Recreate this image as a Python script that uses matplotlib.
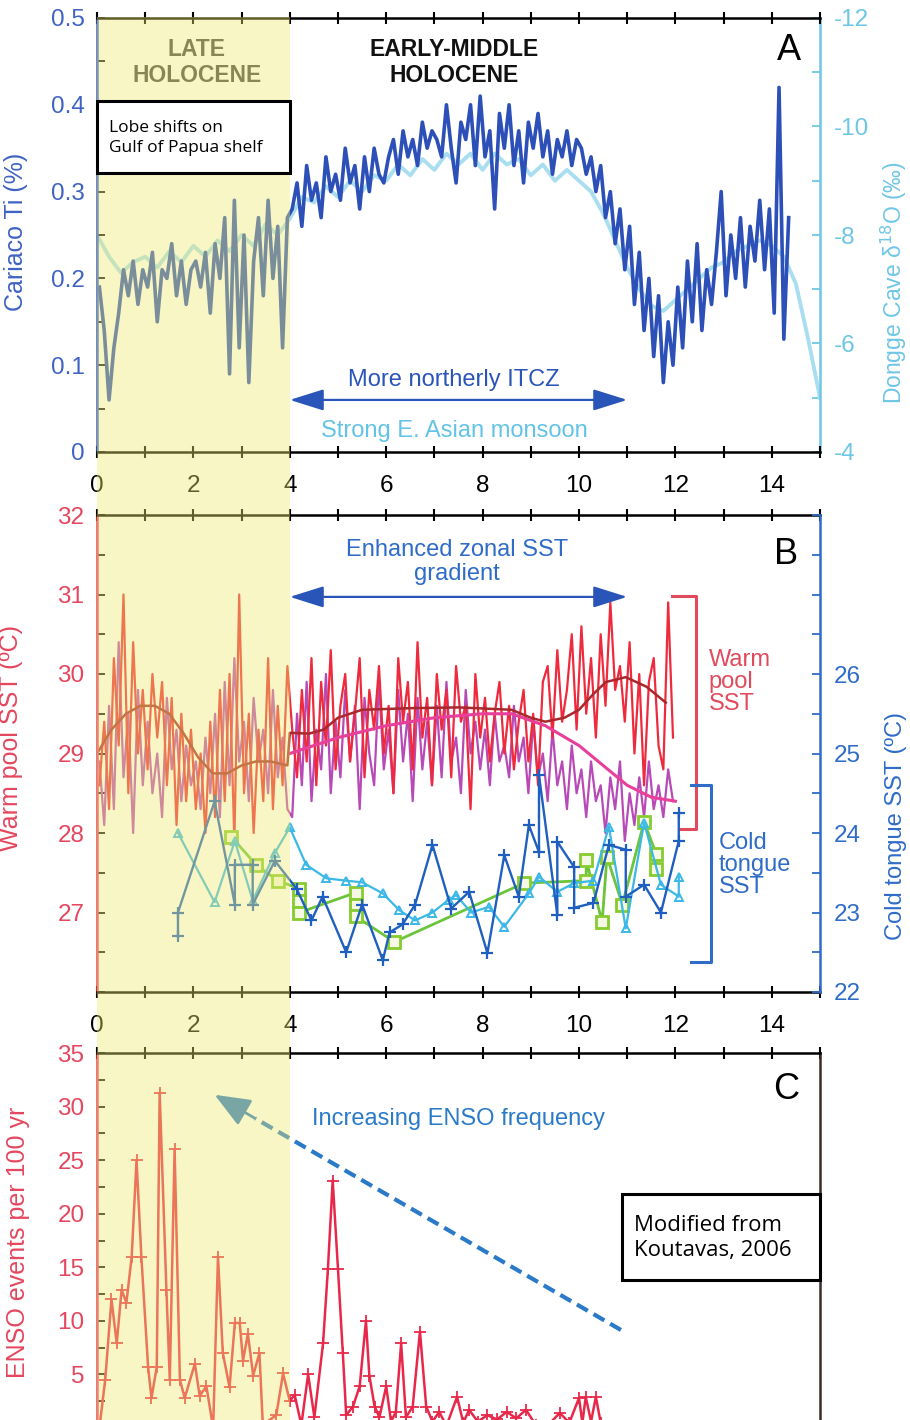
import matplotlib.pyplot as plt
from matplotlib.patches import Rectangle
from matplotlib.ticker import MultipleLocator, FixedLocator, FuncFormatter

plt.rcParams["font.family"] = ["Liberation Sans", "DejaVu Sans"]
plt.rcParams["axes.unicode_minus"] = False

W, H = 910, 1420

# ---------------- panel A : Cariaco Ti (%) and Dongge Cave d18O ----------------
ti_age = [
    0.05, 0.15, 0.25, 0.35, 0.45, 0.55, 0.65, 0.75, 0.85, 0.95,
    1.05, 1.15, 1.25, 1.35, 1.45, 1.55, 1.65, 1.75, 1.85, 1.95,
    2.05, 2.15, 2.25, 2.35, 2.45, 2.55, 2.65, 2.75, 2.85, 2.95,
    3.05, 3.15, 3.25, 3.35, 3.45, 3.55, 3.65, 3.75, 3.85, 3.95,
    4.05, 4.15, 4.25, 4.35, 4.45, 4.55, 4.65, 4.75, 4.85, 4.95,
    5.05, 5.15, 5.25, 5.35, 5.45, 5.55, 5.65, 5.75, 5.85, 5.95,
    6.05, 6.15, 6.25, 6.35, 6.45, 6.55, 6.65, 6.75, 6.85, 6.95,
    7.05, 7.15, 7.25, 7.35, 7.45, 7.55, 7.65, 7.75, 7.85, 7.95,
    8.05, 8.15, 8.25, 8.35, 8.45, 8.55, 8.65, 8.75, 8.85, 8.95,
    9.05, 9.15, 9.25, 9.35, 9.45, 9.55, 9.65, 9.75, 9.85, 9.95,
    10.05, 10.15, 10.25, 10.35, 10.45, 10.55, 10.65, 10.75, 10.85, 10.95,
    11.05, 11.15, 11.25, 11.35, 11.45, 11.55, 11.65, 11.75, 11.85, 11.95,
    12.05, 12.15, 12.25, 12.35, 12.45, 12.55, 12.65, 12.75, 12.85, 12.95,
    13.05, 13.15, 13.25, 13.35, 13.45, 13.55, 13.65, 13.75, 13.85, 13.95,
    14.05, 14.15, 14.25, 14.35,
]
ti_pct = [
    0.19, 0.14, 0.06, 0.12, 0.16, 0.21, 0.18, 0.22, 0.17, 0.21,
    0.19, 0.23, 0.15, 0.21, 0.20, 0.24, 0.18, 0.22, 0.17, 0.21,
    0.22, 0.19, 0.23, 0.16, 0.24, 0.20, 0.27, 0.09, 0.29, 0.12,
    0.25, 0.08, 0.22, 0.27, 0.18, 0.29, 0.20, 0.26, 0.12, 0.27,
    0.28, 0.31, 0.26, 0.33, 0.29, 0.31, 0.27, 0.34, 0.30, 0.32,
    0.29, 0.35, 0.31, 0.33, 0.28, 0.34, 0.30, 0.35, 0.32, 0.31,
    0.34, 0.36, 0.32, 0.37, 0.34, 0.36, 0.33, 0.38, 0.35, 0.37,
    0.36, 0.34, 0.40, 0.35, 0.31, 0.38, 0.36, 0.40, 0.33, 0.41,
    0.34, 0.37, 0.28, 0.39, 0.35, 0.40, 0.33, 0.37, 0.31, 0.38,
    0.35, 0.39, 0.34, 0.37, 0.32, 0.36, 0.34, 0.37, 0.33, 0.36,
    0.35, 0.32, 0.34, 0.30, 0.33, 0.27, 0.30, 0.24, 0.28, 0.21,
    0.26, 0.17, 0.23, 0.14, 0.20, 0.11, 0.18, 0.08, 0.15, 0.10,
    0.19, 0.12, 0.22, 0.15, 0.24, 0.14, 0.21, 0.17, 0.23, 0.30,
    0.18, 0.25, 0.20, 0.27, 0.19, 0.26, 0.22, 0.29, 0.21, 0.28,
    0.16, 0.42, 0.13, 0.27,
]

dongge_age = [
    0.0, 0.25, 0.5, 0.75, 1.0, 1.25, 1.5, 1.75, 2.0, 2.25,
    2.5, 2.75, 3.0, 3.25, 3.5, 3.75, 4.0, 4.25, 4.5, 4.75,
    5.0, 5.25, 5.5, 5.75, 6.0, 6.25, 6.5, 6.75, 7.0, 7.25,
    7.5, 7.75, 8.0, 8.25, 8.5, 8.75, 9.0, 9.25, 9.5, 9.75,
    10.0, 10.25, 10.5, 10.75, 11.0, 11.25, 11.5, 11.75, 12.0, 12.25,
    12.5, 12.75, 13.0, 13.25, 13.5, 13.75, 14.0, 14.25, 14.5, 14.75, 15.0,
]
dongge_d18o = [
    -8.0, -7.6, -7.3, -7.5, -7.6, -7.4, -7.7, -7.5, -7.8, -7.6,
    -7.9, -7.7, -8.0, -7.8, -8.2, -8.0, -8.3, -8.7, -8.6, -8.9,
    -8.7, -9.0, -8.8, -9.1, -9.0, -9.3, -9.1, -9.4, -9.2, -9.5,
    -9.3, -9.5, -9.2, -9.5, -9.3, -9.4, -9.1, -9.3, -9.0, -9.2,
    -9.0, -8.8, -8.4, -7.9, -7.4, -7.0, -6.7, -6.6, -6.8, -7.0,
    -7.2, -7.4, -7.5, -7.7, -7.8, -7.9, -7.8, -7.6, -7.1, -6.1, -5.0,
]

# ---------------- panel B : warm pool and cold tongue SST ----------------
wp_age = ti_age[:120]
wp_red = [
    28.6, 29.4, 28.3, 30.2, 29.1, 31.0, 28.5, 30.4, 29.0, 29.8,
    28.8, 30.0, 29.2, 29.9, 28.6, 29.7, 28.1, 29.5, 28.4, 29.3,
    28.3, 29.0, 28.0, 29.4, 28.2, 29.8, 28.4, 30.0, 27.9, 31.0,
    28.5, 29.5, 28.0, 29.3, 28.4, 30.2, 28.3, 29.6, 28.6, 30.1,
    29.3, 28.7, 29.8, 28.9, 30.2, 28.6, 29.9, 29.1, 30.3, 28.8,
    29.6, 30.0, 28.9, 29.5, 30.2, 28.7, 29.8, 29.3, 30.1, 29.0,
    29.6, 28.5, 30.2, 29.4, 29.9, 28.8, 30.4, 29.2, 29.7, 28.6,
    30.0, 29.3, 29.8, 28.7, 30.1, 29.4, 29.6, 28.3, 30.0, 29.2,
    29.7, 28.9, 29.5, 29.9, 29.0, 29.6, 28.8, 29.4, 29.8, 28.9,
    29.5, 28.6, 29.9, 30.1, 29.2, 30.3, 29.4, 29.8, 30.5, 29.3,
    30.6, 29.5, 30.2, 29.2, 30.5, 29.6, 30.9, 29.8, 30.1, 29.4,
    30.4, 29.0, 30.0, 28.6, 29.9, 30.2, 29.1, 28.8, 30.9, 29.2,
]
wp_magenta = [
    28.9, 28.1, 29.6, 28.3, 30.4, 28.7, 29.5, 28.0, 29.8, 28.6,
    29.4, 28.5, 29.0, 28.2, 29.7, 28.8, 29.3, 28.4, 29.1, 28.6,
    28.9, 28.3, 29.2, 28.5, 29.5, 28.2, 29.9, 28.6, 30.2, 28.9,
    29.4, 28.4, 29.7, 28.9, 29.3, 28.5, 29.8, 28.7, 29.2, 28.3,
    28.2, 29.5, 28.6, 29.9, 28.4, 29.3, 28.8, 30.0, 28.5, 29.4,
    28.7, 29.8, 28.9, 29.6, 28.3, 29.7, 29.0, 28.6, 29.9, 28.8,
    29.3, 28.5, 29.8, 28.9, 29.5, 28.4, 29.7, 28.8, 29.4, 28.6,
    29.6, 28.7, 29.9, 28.9, 29.2, 28.5, 29.8, 29.0, 29.4, 28.8,
    29.3, 28.6, 29.5, 28.9, 29.1, 28.7, 29.6, 28.9, 29.2, 28.5,
    29.4, 28.7, 29.0, 28.4, 29.3, 28.6, 28.9, 28.3, 29.1, 28.5,
    28.8, 28.2, 28.9, 28.4, 28.6, 28.0, 28.7, 28.3, 28.9, 27.9,
    28.5, 28.1, 28.7, 28.2, 28.9, 28.3, 28.6, 28.2, 28.8, 28.4,
]
red_smooth_age = [0.0, 0.3, 0.6, 0.9, 1.2, 1.5, 1.8, 2.1, 2.4, 2.7, 3.0, 3.3, 3.6, 3.95,
                  4.0, 4.4, 4.7, 5.0, 5.5, 6.5, 7.5, 8.6, 9.0, 9.3, 9.7, 10.0, 10.3,
                  10.56, 10.97, 11.4, 11.8]
red_smooth = [29.0, 29.3, 29.5, 29.6, 29.6, 29.5, 29.25, 28.95, 28.75, 28.75, 28.85, 28.9, 28.9,
              28.85, 29.26, 29.25, 29.3, 29.45, 29.55, 29.57, 29.58, 29.55, 29.45, 29.4, 29.45,
              29.55, 29.75, 29.9, 29.96, 29.84, 29.64]
mag_smooth_age = [4.0, 5.0, 6.0, 7.0, 8.0, 8.6, 9.3, 10.0, 10.5, 11.0, 11.5, 12.0]
mag_smooth = [29.0, 29.2, 29.35, 29.45, 29.5, 29.5, 29.35, 29.1, 28.85, 28.6, 28.45, 28.4]

ct_blue_age = [1.68, 1.68, 2.44, 2.86, 2.86, 3.23, 3.23, 3.69, 4.14, 4.45, 4.68, 5.17, 5.5,
               5.93, 6.07, 6.34, 6.6, 6.96, 7.35, 7.72, 8.1, 8.45, 8.75, 8.96, 9.17, 9.17,
               9.55, 9.55, 9.9, 9.9, 10.3, 10.62, 10.97, 10.97, 11.35, 11.7, 12.07, 12.07]
ct_blue = [22.7, 23.0, 24.4, 23.1, 23.6, 23.6, 23.1, 23.65, 23.3, 22.9, 23.2, 22.5, 23.1,
           22.4, 22.75, 22.85, 23.1, 23.85, 23.05, 23.26, 22.49, 23.72, 23.2, 24.1, 23.76, 24.73,
           22.97, 23.89, 23.57, 23.06, 23.12, 23.85, 23.79, 23.2, 23.35, 23.0, 23.9, 24.25]
ct_cyan_age = [1.68, 2.44, 2.86, 3.23, 3.69, 4.0, 4.34, 4.76, 5.17, 5.5, 5.93, 6.27, 6.6,
               6.96, 7.3, 7.45, 7.76, 8.13, 8.45, 8.96, 9.17, 9.55, 9.9, 10.3, 10.62, 10.97,
               11.35, 11.7, 12.07, 12.07]
ct_cyan = [24.0, 23.13, 23.9, 23.15, 23.75, 24.07, 23.6, 23.43, 23.4, 23.38, 23.24, 23.03, 22.9,
           23.0, 23.16, 23.22, 23.0, 23.07, 22.82, 23.24, 23.45, 23.26, 23.37, 23.4, 24.08, 22.8,
           24.13, 23.35, 23.2, 23.45]
ct_green_age = [2.79, 3.3, 3.75, 4.2, 4.2, 4.2, 5.37, 5.37, 5.37, 6.17, 8.86, 10.15, 10.15,
                10.48, 10.58, 10.9, 11.35, 11.6, 11.6]
ct_green = [23.95, 23.6, 23.4, 23.3, 23.15, 23.0, 23.25, 23.1, 22.95, 22.63, 23.37, 23.4, 23.66,
            22.88, 23.7, 23.1, 24.14, 23.74, 23.55]

# ---------------- panel C : ENSO events per 100 yr ----------------
enso_age = [0.05, 0.17, 0.30, 0.41, 0.51, 0.61, 0.72, 0.82, 0.92, 1.06, 1.13, 1.24, 1.30,
            1.44, 1.51, 1.61, 1.72, 1.82, 2.03, 2.13, 2.27, 2.41, 2.51, 2.61, 2.75, 2.86,
            2.96, 3.03, 3.13, 3.24, 3.37, 3.44, 3.72, 3.86, 4.0, 4.10, 4.24, 4.38, 4.51,
            4.69, 4.79, 4.89, 5.0, 5.1, 5.17, 5.31, 5.45, 5.58, 5.65, 5.76, 5.86, 6.0,
            6.1, 6.2, 6.31, 6.41, 6.55, 6.70, 6.83, 6.96, 7.1, 7.25, 7.47, 7.6, 7.72,
            7.9, 8.1, 8.3, 8.5, 8.7, 8.9, 9.1, 9.3, 9.6, 9.8, 10.0, 10.07, 10.14, 10.25,
            10.35, 10.45, 10.55]
enso_n = [0.0, 4.5, 12.0, 7.9, 12.9, 11.7, 16.0, 25.0, 16.0, 5.7, 2.8, 5.7, 31.3,
          12.9, 4.5, 26.0, 4.5, 2.8, 6.0, 3.0, 3.9, 0.0, 16.0, 7.0, 3.8, 9.8,
          9.8, 6.3, 8.8, 4.9, 7.0, 0.3, 1.2, 5.1, 2.5, 3.1, 0.3, 5.0, 1.0,
          7.9, 14.8, 23.1, 14.8, 7.0, 1.2, 2.0, 3.9, 10.0, 4.9, 2.0, 1.0, 3.9,
          0.6, 1.5, 7.9, 1.0, 2.0, 9.0, 2.0, 0.6, 1.5, 0.2, 2.9, 0.5, 1.7,
          0.6, 1.2, 0.8, 1.5, 0.9, 1.7, 0.3, 0.0, 1.4, 0.5, 2.8, 0.5, 2.9, 0.6,
          2.9, 0.5, 0.0]

TICK_FS = 17.5
LAB_FS = 18
ANN_FS = 17


def frame(ax, left_color, right_visible=True):
    for side in ["top", "bottom", "left", "right"]:
        ax.spines[side].set_linewidth(1.8)
    ax.spines["left"].set_color(left_color)
    ax.spines["right"].set_visible(right_visible)
    ax.set_xlim(0, 15)
    ax.xaxis.set_major_locator(MultipleLocator(2))
    ax.xaxis.set_minor_locator(MultipleLocator(1))
    ax.tick_params(axis="x", which="both", top=True, bottom=True, direction="inout",
                   length=9, width=1.5, labelsize=TICK_FS, pad=12)
    ax.tick_params(axis="y", which="both", direction="in", length=6, width=1.3,
                   labelsize=TICK_FS, pad=9, labelcolor=left_color)
    ax.patch.set_visible(False)


def right_frame(ax, color):
    for side in ["top", "bottom", "left"]:
        ax.spines[side].set_visible(False)
    ax.spines["right"].set_color(color)
    ax.spines["right"].set_linewidth(1.8)
    ax.tick_params(axis="y", which="both", direction="in", length=6, width=1.3,
                   color=color, labelsize=TICK_FS, pad=10, labelcolor=color)


fmt = FuncFormatter(lambda v, p: f"{v:g}")

fig = plt.figure(figsize=(W / 100, H / 100), dpi=100)

# ---- A ----
axA = fig.add_axes([97 / W, 1 - 452 / H, 723 / W, 434 / H])
axA2 = axA.twinx()
axA.set_zorder(2)
frame(axA, "#3f63c3", right_visible=False)
right_frame(axA2, "#6ec6e6")
axA2.plot(dongge_age, dongge_d18o, color="#a9def0", lw=2.8)
axA.plot(ti_age, ti_pct, color="#2c50b8", lw=2.6)
axA.set_ylim(0, 0.5)
axA.yaxis.set_major_locator(MultipleLocator(0.1))
axA.yaxis.set_minor_locator(MultipleLocator(0.05))
axA.yaxis.set_major_formatter(fmt)
axA2.set_ylim(-4, -12)
axA2.yaxis.set_major_locator(MultipleLocator(2))
axA2.yaxis.set_minor_locator(MultipleLocator(1))
axA2.yaxis.set_major_formatter(fmt)
axA.set_ylabel("Cariaco Ti (%)", color="#3f63c3", fontsize=LAB_FS)
axA.yaxis.set_label_coords(-0.095, 0.507)
axA2.set_ylabel("Dongge Cave δ$^{18}$O (‰)", color="#6ec6e6", fontsize=16.5)
axA2.yaxis.set_label_coords(1.082, 0.39)

axA.text(2.07, 0.449, "LATE\nHOLOCENE", ha="center", va="center", fontsize=16.5,
         fontweight="bold", color="#444444", linespacing=1.15)
axA.text(7.41, 0.449, "EARLY-MIDDLE\nHOLOCENE", ha="center", va="center", fontsize=16.5,
         fontweight="bold", color="#111111", linespacing=1.15)
axA.text(14.35, 0.463, "A", ha="center", va="center", fontsize=26)
axA.annotate("", xy=(4.0, 0.06), xytext=(11.0, 0.06),
             arrowprops=dict(arrowstyle="<|-|>,head_length=1.05,head_width=0.33",
                             color="#2a55b8", lw=1.6, shrinkA=0, shrinkB=0, mutation_scale=20))
axA.text(7.41, 0.083, "More northerly ITCZ", ha="center", va="center", fontsize=ANN_FS,
         color="#2a55b8")
axA.text(7.41, 0.024, "Strong E. Asian monsoon", ha="center", va="center", fontsize=ANN_FS,
         color="#63c3e6")

# ---- B ----
axB = fig.add_axes([97 / W, 1 - 992 / H, 723 / W, 477 / H])
axB2 = axB.twinx()
frame(axB, "#e4475f", right_visible=False)
right_frame(axB2, "#2f6cc8")
axB.plot(wp_age, wp_magenta, color="#b84ab8", lw=1.6)
axB.plot(wp_age, wp_red, color="#ee2a3c", lw=1.6)
axB.plot(mag_smooth_age, mag_smooth, color="#e8409a", lw=2.2)
axB.plot(red_smooth_age, red_smooth, color="#a8282c", lw=1.8)
axB.set_ylim(26, 32)
axB.yaxis.set_major_locator(FixedLocator([27, 28, 29, 30, 31, 32]))
axB.yaxis.set_minor_locator(MultipleLocator(0.5))
axB.yaxis.set_major_formatter(fmt)
axB2.set_ylim(22, 28)
axB2.yaxis.set_major_locator(FixedLocator([22, 23, 24, 25, 26]))
axB2.yaxis.set_minor_locator(MultipleLocator(0.5))
axB2.yaxis.set_major_formatter(fmt)
axB2.plot(ct_green_age, ct_green, color="#6cc43a", lw=2.0, marker="s", ms=9,
          mfc="#f4f8e4", mec="#86cc2e", mew=2)
axB2.plot(ct_cyan_age, ct_cyan, color="#3cb8e6", lw=1.6, marker="^", ms=6,
          mfc="none", mec="#3cb8e6", mew=1.4)
axB2.plot(ct_blue_age, ct_blue, color="#1f5fbf", lw=1.7, marker="+", ms=8, mew=1.6)
axB.set_ylabel("Warm pool SST (ºC)", color="#e4475f", fontsize=LAB_FS)
axB.yaxis.set_label_coords(-0.103, 0.532)
axB2.set_ylabel("Cold tongue SST (ºC)", color="#2f6cc8", fontsize=17)
axB2.yaxis.set_label_coords(1.09, 0.348)

axB.text(14.3, 31.5, "B", ha="center", va="center", fontsize=26)
axB.text(7.47, 31.41, "Enhanced zonal SST\ngradient", ha="center", va="center",
         fontsize=ANN_FS, color="#2f6cc8", linespacing=1.15)
axB.annotate("", xy=(4.0, 30.97), xytext=(11.0, 30.97),
             arrowprops=dict(arrowstyle="<|-|>,head_length=1.05,head_width=0.33",
                             color="#2a55b8", lw=1.6, shrinkA=0, shrinkB=0, mutation_scale=20))
axB.plot([11.93, 12.42, 12.42, 12.07], [30.98, 30.98, 28.05, 28.05], color="#e04a5c",
         lw=2.2, clip_on=False)
axB2.plot([12.32, 12.73, 12.73, 12.32], [24.6, 24.6, 22.38, 22.38], color="#2f6cc8",
          lw=2.2, clip_on=False)
axB.text(12.69, 29.9, "Warm\npool\nSST", ha="left", va="center", fontsize=ANN_FS,
         color="#e04a5c", linespacing=1.0)
axB2.text(12.9, 23.6, "Cold\ntongue\nSST", ha="left", va="center", fontsize=ANN_FS,
          color="#2f6cc8", linespacing=1.0)

# ---- C ----
axC = fig.add_axes([97 / W, 1 - 1428 / H, 723 / W, 375 / H])
frame(axC, "#e4475f")
axC.spines["right"].set_color("#3a2a2a")
axC.tick_params(axis="x", labelbottom=False)
axC.set_ylim(0, 35)
axC.yaxis.set_major_locator(FixedLocator([5, 10, 15, 20, 25, 30, 35]))
axC.yaxis.set_minor_locator(MultipleLocator(2.5))
axC.plot(enso_age, enso_n, color="#e8284a", lw=1.8, marker="+", ms=8, mew=1.3)
axC.set_ylabel("ENSO events per 100 yr", color="#e4475f", fontsize=LAB_FS)
axC.yaxis.set_label_coords(-0.093, 0.496)
axC.text(14.29, 31.6, "C", ha="center", va="center", fontsize=26)
axC.text(7.5, 28.8, "Increasing ENSO frequency", ha="center", va="center",
         fontsize=ANN_FS, color="#2a7ac8")
axC.plot([10.87, 3.28], [9.15, 28.9], color="#2a7ac8", lw=3, ls=(0, (3, 1.6)))
axC.annotate("", xy=(2.44, 31.1), xytext=(3.28, 28.9),
             arrowprops=dict(arrowstyle="-|>,head_length=1.1,head_width=0.45",
                             color="#2a7ac8", lw=2, shrinkA=0, shrinkB=0, mutation_scale=20))

# ---- late Holocene band laid over everything ----
fig.add_artist(Rectangle((97 / W, 0), 193 / W, 1 - 17 / H, transform=fig.transFigure,
                         facecolor="#f0ea6e", alpha=0.4, lw=0, zorder=10))

# ---- note boxes ----
fig.add_artist(Rectangle((97 / W, 1 - 173 / H), 193 / W, 72 / H, transform=fig.transFigure,
                         facecolor="white", edgecolor="black", lw=2.2, zorder=11))
fig.text(109 / W, 1 - 138 / H, "Lobe shifts on\nGulf of Papua shelf", family="Open Sans",
         fontsize=12.5, ha="left", va="center", linespacing=1.3, zorder=12)
fig.add_artist(Rectangle((622 / W, 1 - 1280 / H), 198 / W, 86 / H, transform=fig.transFigure,
                         facecolor="white", edgecolor="black", lw=2.2, zorder=11))
fig.text(634 / W, 1 - 1238 / H, "Modified from\nKoutavas, 2006", family="Open Sans",
         fontsize=16, ha="left", va="center", linespacing=1.3, zorder=12)

fig.savefig("out.png", dpi=100)
